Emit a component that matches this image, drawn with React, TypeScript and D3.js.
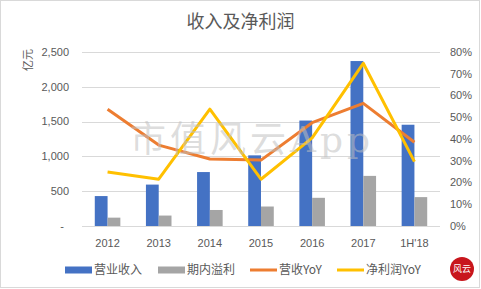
import { useEffect, useRef } from 'react';
import * as d3 from 'd3';

const categories = ['2012', '2013', '2014', '2015', '2016', '2017', "1H'18"];
const revenue = [430, 595, 775, 1015, 1515, 2370, 1455];
const profit = [120, 150, 230, 280, 405, 720, 415];
const revenueYoY = [0.537, 0.372, 0.308, 0.303, 0.475, 0.564, 0.385];
const profitYoY = [0.248, 0.215, 0.537, 0.215, 0.405, 0.748, 0.296];
const leftTicks = [0, 500, 1000, 1500, 2000, 2500];
const rightTicks = [0, 0.1, 0.2, 0.3, 0.4, 0.5, 0.6, 0.7, 0.8];
const legendNames = ['营业收入', '期内溢利', '营收YoY', '净利润YoY'];

const W = 481;
const H = 289;
const FONT = '"Liberation Sans", "Noto Sans CJK SC", sans-serif';
const CJK = '"Noto Sans CJK SC", sans-serif';
const TEXT = '#595959';
const COLORS = ['#4472C4', '#A5A5A5', '#ED7D31', '#FFC000'];

const App = () => {
  const svgRef = useRef<SVGSVGElement>(null);

  useEffect(() => {
    const svg = d3.select(svgRef.current);
    svg.selectAll('*').remove();

    const margin = { top: 52, right: 41, bottom: 63, left: 82 };
    const x0 = margin.left;
    const x1 = W - margin.right;
    const y0 = H - margin.bottom;
    const y1 = margin.top;

    // frame
    svg.append('rect')
      .attr('x', 0.5).attr('y', 0.5)
      .attr('width', W - 2).attr('height', H - 2)
      .attr('fill', '#fff')
      .attr('stroke', '#d9d9d9');

    // Scales
    const x = d3.scaleBand()
      .domain(categories)
      .range([x0, x1])
      .paddingInner(0.5)
      .paddingOuter(0.25);

    const xs = d3.scaleBand()
      .domain(['rev', 'profit'])
      .range([0, x.bandwidth()]);

    const yL = d3.scaleLinear().domain([0, 2500]).range([y0, y1]);
    const yR = d3.scaleLinear().domain([0, 0.8]).range([y0, y1]);

    // gridlines
    svg.append('g')
      .selectAll('line')
      .data(leftTicks)
      .join('line')
      .attr('x1', x0).attr('x2', x1)
      .attr('y1', d => Math.round(yL(d)) + 0.5)
      .attr('y2', d => Math.round(yL(d)) + 0.5)
      .attr('stroke', '#d9d9d9')
      .attr('stroke-width', 1);

    // left tick labels
    svg.append('g')
      .selectAll('text')
      .data(leftTicks)
      .join('text')
      .attr('x', d => (d === 0 ? 64 : 69))
      .attr('y', d => yL(d))
      .attr('dy', '0.35em')
      .attr('text-anchor', 'end')
      .attr('font-family', FONT)
      .attr('font-size', 11)
      .attr('fill', TEXT)
      .text(d => (d === 0 ? '-' : d3.format(',')(d)));

    // right tick labels
    svg.append('g')
      .selectAll('text')
      .data(rightTicks)
      .join('text')
      .attr('x', 450)
      .attr('y', d => yR(d))
      .attr('dy', '0.35em')
      .attr('font-family', FONT)
      .attr('font-size', 11)
      .attr('fill', TEXT)
      .text(d => d3.format('.0%')(d));

    // x labels
    svg.append('g')
      .selectAll('text')
      .data(categories)
      .join('text')
      .attr('x', d => x(d)! + x.bandwidth() / 2)
      .attr('y', y0 + 17)
      .attr('dy', '0.35em')
      .attr('text-anchor', 'middle')
      .attr('font-family', FONT)
      .attr('font-size', 11)
      .attr('fill', TEXT)
      .text(d => d);

    // bars
    const bars = svg.append('g');
    bars.selectAll('.rev')
      .data(categories)
      .join('rect')
      .attr('x', d => x(d)! + xs('rev')!)
      .attr('y', (d, i) => yL(revenue[i]))
      .attr('width', xs.bandwidth())
      .attr('height', (d, i) => y0 - yL(revenue[i]))
      .attr('fill', COLORS[0]);
    bars.selectAll('.profit')
      .data(categories)
      .join('rect')
      .attr('x', d => x(d)! + xs('profit')!)
      .attr('y', (d, i) => yL(profit[i]))
      .attr('width', xs.bandwidth())
      .attr('height', (d, i) => y0 - yL(profit[i]))
      .attr('fill', COLORS[1]);

    // lines
    const line = d3.line<number>()
      .x((d, i) => x(categories[i])! + x.bandwidth() / 2)
      .y(d => yR(d));

    svg.append('path')
      .datum(revenueYoY)
      .attr('fill', 'none')
      .attr('stroke', COLORS[2])
      .attr('stroke-width', 3)
      .attr('stroke-linejoin', 'round')
      .attr('d', line);

    svg.append('path')
      .datum(profitYoY)
      .attr('fill', 'none')
      .attr('stroke', COLORS[3])
      .attr('stroke-width', 3)
      .attr('stroke-linejoin', 'round')
      .attr('d', line);

    // watermark
    svg.append('text')
      .attr('x', 130)
      .attr('y', 152)
      .attr('font-family', '"DejaVu Serif", "Noto Sans CJK SC", serif')
      .attr('font-size', 36)
      .attr('letter-spacing', 4)
      .attr('fill', '#bfbfbf')
      .attr('fill-opacity', 0.55)
      .text('市值风云App');

    // title
    svg.append('text')
      .attr('x', W / 2)
      .attr('y', 22)
      .attr('dy', '0.35em')
      .attr('text-anchor', 'middle')
      .attr('font-family', CJK)
      .attr('font-size', 18)
      .attr('fill', TEXT)
      .text('收入及净利润');

    // y axis unit
    svg.append('text')
      .attr('transform', 'translate(28,60) rotate(-90)')
      .attr('dy', '0.35em')
      .attr('text-anchor', 'middle')
      .attr('font-family', CJK)
      .attr('font-size', 11)
      .attr('fill', TEXT)
      .text('亿元');

    // legend
    const legendX = [65, 158, 250, 337];
    const lg = svg.append('g')
      .selectAll('g')
      .data(legendNames)
      .join('g')
      .attr('transform', (d, i) => `translate(${legendX[i]},270)`);
    lg.append('rect')
      .attr('x', 0)
      .attr('y', (d, i) => (i < 2 ? -3.5 : -1.5))
      .attr('width', 27)
      .attr('height', (d, i) => (i < 2 ? 7 : 3))
      .attr('fill', (d, i) => COLORS[i]);
    lg.append('text')
      .attr('x', 29)
      .attr('dy', '0.35em')
      .attr('font-family', CJK)
      .attr('font-size', 12)
      .attr('fill', TEXT)
      .text(d => d);

    // logo
    const logo = svg.append('g').attr('transform', 'translate(462,269)');
    logo.append('circle').attr('r', 12).attr('fill', '#c8161d');
    logo.append('text')
      .attr('text-anchor', 'middle')
      .attr('dy', '0.35em')
      .attr('font-family', CJK)
      .attr('font-size', 9)
      .attr('fill', '#fff')
      .text('风云');
  }, []);

  return <svg ref={svgRef} width={W} height={H} style={{ display: 'block', position: 'absolute', left: 0, top: 0 }} />;
};

export default App;
